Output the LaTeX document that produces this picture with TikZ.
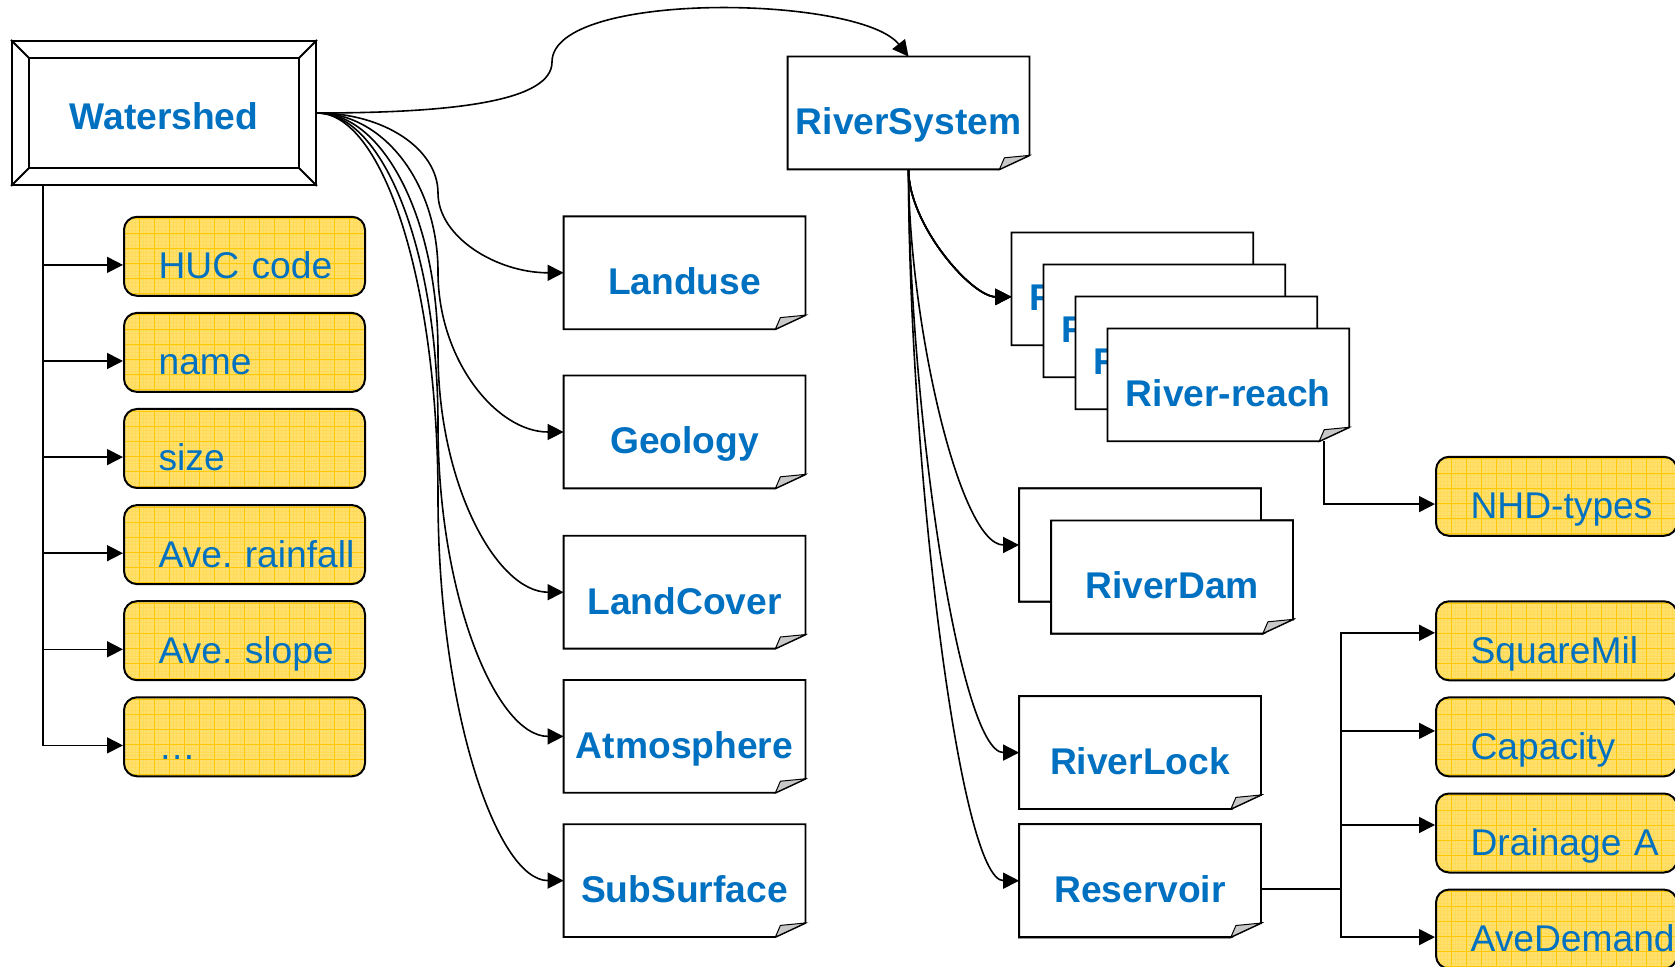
\documentclass[tikz,border=0pt]{standalone}
\usepackage{fontspec}
\setmainfont{Liberation Sans}
\usetikzlibrary{arrows.meta}
\frenchspacing
\definecolor{wblue}{RGB}{0,112,192}
\definecolor{attrfill}{RGB}{255,224,110}
\definecolor{gridgold}{RGB}{255,200,0}
\definecolor{foldgray}{RGB}{200,200,200}
\newcommand\bigfont{\fontsize{18.6}{21}\selectfont}
\tikzstyle{arr}=[line width=.8pt,-{Triangle[length=8pt,width=8pt]}]
\tikzstyle{wsbox}=[draw,line width=1pt,minimum width=152pt,minimum height=72pt,text=wblue,font=\bfseries\bigfont,text height=16.1pt,text depth=0pt]
\tikzstyle{doc}=[fill=white,minimum width=120.5pt,minimum height=56pt,inner sep=0pt,text=wblue,font=\bfseries\bigfont,text height=21.8pt,text depth=0pt]
\tikzstyle{docline}=[line width=.9pt]
\tikzstyle{attr}=[draw,line width=1pt,rounded corners=6.5pt,fill=attrfill,minimum height=39.5pt,text width=120.5pt,inner xsep=0pt,inner ysep=0pt,align=left,text=wblue,font=\bigfont,text height=22.5pt,text depth=0pt,
  execute at begin node={\noindent\hspace*{17.3pt}},
  path picture={
    \draw[gridgold!20!attrfill,line width=.2pt,step=1.875pt] (path picture bounding box.south west) grid (path picture bounding box.north east);
    \draw[gridgold,line width=.4pt,step=7.5pt] (path picture bounding box.south west) grid (path picture bounding box.north east);}]
% a page with its lower right corner turned up
\newcommand\docnode[3]{%
  \node[doc] (#1) at (#2) {#3};
  \draw[docline] (#1.north west) -- (#1.north east) -- ([yshift=7pt]#1.south east)
    -- ([xshift=-15pt]#1.south east) -- (#1.south west) -- cycle;
  \draw[line width=.5pt,fill=foldgray] ([xshift=-15pt]#1.south east)
    .. controls ([shift={(-14pt,3pt)}]#1.south east) .. ([shift={(-12.5pt,5.8pt)}]#1.south east)
    -- ([yshift=7pt]#1.south east) -- cycle;
}
\begin{document}
\begin{tikzpicture}[x=.5pt,y=-.5pt]
\useasboundingbox (0,0) rectangle (1675,967);
% watershed
\node[wsbox] (ws) at (164,113) {Watershed};
\draw[line width=1pt] ([shift={(9pt,-9pt)}]ws.north west) rectangle ([shift={(-9pt,9pt)}]ws.south east);
\foreach \a/\dx/\dy in {north west/9/-9,north east/-9/-9,south east/-9/9,south west/9/9}
  \draw[line width=1pt] (ws.\a) -- ([shift={(\dx pt,\dy pt)}]ws.\a);
% attributes of the watershed
\foreach \n/\lbl [count=\i from 0] in {huc/HUC code,name/name,size/size,rain/Ave. rainfall,slope/Ave. slope,more/…}
  \node[attr] (\n) at (244.5,256.3+96.1*\i) {\lbl};
\coordinate (wsj) at ([xshift=16pt]ws.south west);
\foreach \n in {huc,name,size,rain,slope,more}
  \draw[arr] (wsj) |- ([yshift=-4.3pt]\n.west);
% themes
\docnode{lu}{684.5,272.8}{Landuse}
\docnode{geo}{684.5,432}{Geology}
\docnode{lc}{684.5,592.2}{LandCover}
\docnode{atm}{684.5,736.4}{Atmosphere}
\docnode{sub}{684.5,880.6}{SubSurface}
\foreach \n/\m/\k in {lu/193/44,geo/272/88,lc/352/132,atm/425/172,sub/497/211}
  \draw[arr] (ws.east) .. controls +(67,0) and +(0,-\k) .. (438,\m) .. controls +(0,\k) and +(-67,0) .. (\n.west);
% river system
\docnode{rs}{908.5,113}{RiverSystem}
\draw[arr] (ws.east) .. controls (460,113) and (552,100) .. (552,62) .. controls (552,-10) and (860,-5) .. (rs.north);
\foreach \i in {0,...,3}
  \docnode{rr\i}{1132.3+32*\i,288.9+32*\i}{River-reach}
\docnode{damb}{1140,545}{}
\docnode{dam}{1172,577}{RiverDam}
\docnode{lock}{1140,752.6}{RiverLock}
\docnode{res}{1140,880.7}{Reservoir}
\draw[arr] (rs.south) .. controls +(0,55) and +(-40,0) .. ([yshift=-4pt]rr0.west);
\draw[arr] (rs.south) .. controls +(0,150) and +(-60,0) .. (damb.west);
\draw[arr] (rs.south) .. controls +(0,233) and +(-60,0) .. (lock.west);
\draw[arr] (rs.south) .. controls +(0,285) and +(-60,0) .. (res.west);
% reach and reservoir attributes
\node[attr] (nhd) at (1556.5,496.3) {NHD-types};
\draw[arr] ([xshift=-12.5pt]rr3.south east) |- ([yshift=-3.9pt]nhd.west);
\foreach \n/\lbl [count=\i from 0] in {sqm/SquareMil,cap/Capacity,drn/Drainage A,dem/AveDemand}
  \node[attr] (\n) at (1556.5,640.8+96.1*\i) {\lbl};
\coordinate (resj) at ([shift={(40pt,-4.2pt)}]res.east);
\draw[line width=.8pt] ([yshift=-4.2pt]res.east) -- (resj);
\foreach \n/\s in {sqm/4,cap/3,drn/4,dem/-4}
  \draw[arr] (resj) |- ([yshift=\s pt]\n.west);
\end{tikzpicture}
\end{document}
